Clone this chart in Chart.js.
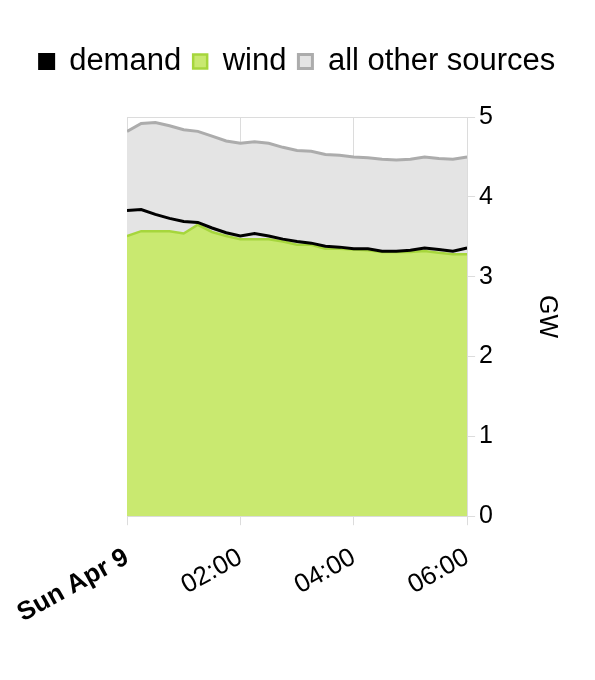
<!DOCTYPE html>
<html>
<head>
<meta charset="utf-8">
<script src="https://cdn.jsdelivr.net/npm/chart.js@4"></script>
<style>
  html, body { margin: 0; padding: 0; background: #fff; }
  #wrap { width: 595px; height: 680px; }
</style>
</head>
<body>
<div id="wrap"><canvas id="chart"></canvas></div>
<script>
// minutes after midnight, Sun Apr 9
const minutes = [0, 15, 30, 45, 60, 75, 90, 105, 120, 135, 150, 165, 180,
                 195, 210, 225, 240, 255, 270, 285, 300, 315, 330, 345, 360];
// GW
const demand = [3.83, 3.84, 3.78, 3.73, 3.69, 3.68, 3.61, 3.55, 3.51, 3.54, 3.51, 3.47, 3.44,
                3.42, 3.38, 3.37, 3.35, 3.35, 3.32, 3.32, 3.33, 3.36, 3.34, 3.32, 3.36];
const wind = [3.51, 3.57, 3.57, 3.57, 3.54, 3.65, 3.56, 3.51, 3.47, 3.47, 3.47, 3.44, 3.40,
              3.40, 3.35, 3.35, 3.34, 3.33, 3.31, 3.31, 3.31, 3.32, 3.30, 3.28, 3.28];
// top of the grey band (wind + all other sources)
const otherTop = [4.82, 4.92, 4.93, 4.89, 4.84, 4.82, 4.76, 4.70, 4.67, 4.69, 4.67, 4.62, 4.58,
                  4.57, 4.53, 4.52, 4.50, 4.49, 4.47, 4.46, 4.47, 4.50, 4.48, 4.47, 4.50];
const xTickValues = [0, 120, 240, 360];
const xTickLabels = ['Sun Apr 9', '02:00', '04:00', '06:00'];

const FONT = "'Liberation Sans', Arial, Helvetica, sans-serif";

function toPoints(values) {
    return values.map((v, i) => ({ x: minutes[i], y: v }));
}

// extra room under the legend
const legendGap = {
    id: 'legendGap',
    beforeInit(chart) {
        const fit = chart.legend.fit;
        chart.legend.fit = function () {
            fit.call(this);
            this.height += 30;
        };
    }
};

const ctx = document.getElementById('chart').getContext('2d');

new Chart(ctx, {
    type: 'line',
    data: {
        datasets: [
            {
                label: 'demand',
                data: toPoints(demand),
                borderColor: '#000000',
                backgroundColor: '#000000',
                borderWidth: 3,
                fill: false
            },
            {
                label: 'wind',
                data: toPoints(wind),
                borderColor: '#a6d63c',
                backgroundColor: '#c9e970',
                borderWidth: 2.5,
                fill: 'origin'
            },
            {
                label: 'all other sources',
                data: toPoints(otherTop),
                borderColor: '#acacac',
                backgroundColor: '#e4e4e4',
                borderWidth: 3,
                fill: '-1'
            }
        ]
    },
    options: {
        responsive: true,
        maintainAspectRatio: false,
        animation: false,
        elements: {
            point: { radius: 0, hoverRadius: 0 },
            line: { tension: 0 }
        },
        layout: {
            padding: { top: 34, right: 0, bottom: 34, left: 0 }
        },
        plugins: {
            legend: {
                position: 'top',
                labels: {
                    boxWidth: 14,
                    boxHeight: 14,
                    padding: 12,
                    color: '#000',
                    font: { family: FONT, size: 31 }
                }
            },
            tooltip: { enabled: false }
        },
        scales: {
            x: {
                type: 'linear',
                min: 0,
                max: 360,
                afterBuildTicks: axis => {
                    axis.ticks = xTickValues.map(v => ({ value: v }));
                },
                afterFit: axis => {
                    axis.paddingLeft = 127;
                },
                ticks: {
                    autoSkip: false,
                    minRotation: 29,
                    maxRotation: 29,
                    padding: 17,
                    color: '#000',
                    font: c => ({
                        family: FONT,
                        size: 26,
                        weight: c.tick && c.tick.value === 0 ? 'bold' : 'normal'
                    }),
                    callback: value => xTickLabels[xTickValues.indexOf(value)]
                },
                grid: {
                    color: '#dcdcdc',
                    tickLength: 9,
                    drawOnChartArea: true
                },
                border: { display: false }
            },
            y: {
                position: 'right',
                min: 0,
                max: 5,
                ticks: {
                    stepSize: 1,
                    padding: 4,
                    color: '#000',
                    font: { family: FONT, size: 25 }
                },
                grid: {
                    color: '#dcdcdc',
                    tickLength: 8
                },
                border: { display: false },
                title: {
                    display: true,
                    text: 'GW',
                    color: '#000',
                    padding: { top: 33, bottom: 35 },
                    font: { family: FONT, size: 25 }
                }
            }
        }
    },
    plugins: [legendGap]
});
</script>
</body>
</html>
